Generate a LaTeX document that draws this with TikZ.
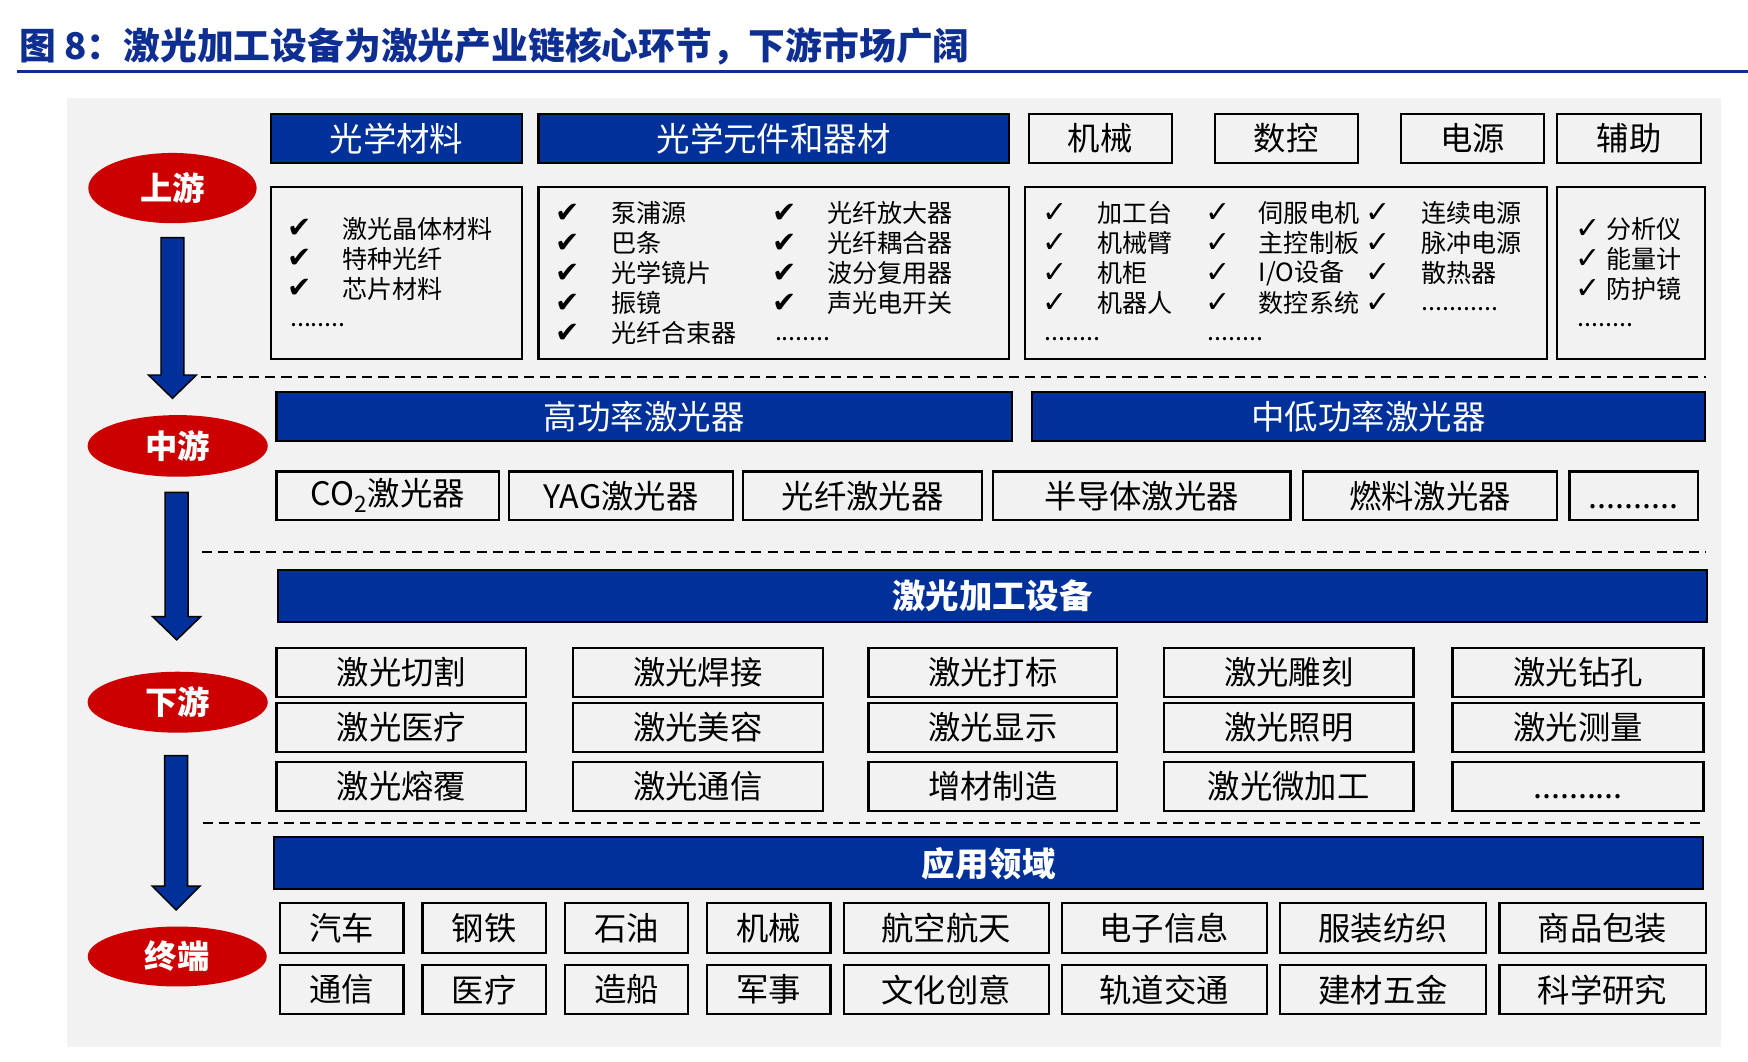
\documentclass[tikz,border=0pt]{standalone}
\usepackage{fontspec}
\setmainfont{Noto Sans CJK SC}
\newfontfamily\symfont{DejaVu Sans}
\usetikzlibrary{shapes.geometric,calc}
\definecolor{tblue}{RGB}{14,46,145}
\definecolor{fblue}{RGB}{0,48,153}
\definecolor{fred}{RGB}{204,0,0}
\definecolor{bgg}{RGB}{242,242,242}
\newcommand\bx[7]{\node[#6,minimum width={(#4-#2)*1pt},minimum height={(#5-#3)*1pt}] (#1) at ({(#2+#4)/2},{(#3+#5)/2}) {#7};}
\newcommand\blockarrow[3]{\draw[barrow] ($(#1)+(-10.3,0)$) -- ($(#1)+(10.3,0)$) -- ($(#2)+(10.3,0)$) -- ($(#2)+(21.5,0)$) -- (#3) -- ($(#2)+(-21.5,0)$) -- ($(#2)+(-10.3,0)$) -- cycle;}
\newcommand\tendots{\vphantom{激}..........}
\tikzset{
 hdr/.style={draw=black,line width=2pt,fill=fblue,text=white,font=\fontsize{30}{34}\selectfont,inner sep=0pt},
 hdrb/.style={draw=black,line width=2pt,fill=fblue,text=white,font=\bfseries\fontsize{30}{34}\selectfont,inner sep=0pt},
 wbox/.style={draw=black,line width=2pt,fill=bgg,font=\fontsize{29}{34}\selectfont,inner sep=0pt},
 cbox/.style={draw=black,line width=2pt,inner sep=0pt},
 chk/.style={anchor=west,inner sep=0pt,font=\symfont\fontsize{26}{30}\selectfont},
 chks/.style={anchor=west,inner sep=0pt,font=\symfont\fontsize{27}{30}\selectfont},
 itm/.style={anchor=west,inner sep=0pt,font=\fontsize{22.5}{27}\selectfont},
 stage/.style={ellipse,fill=fred,text=white,inner sep=0pt,font=\bfseries\fontsize{29}{34}\selectfont},
 sep/.style={draw=black,line width=2pt,dash pattern=on 9pt off 5.5pt},
 barrow/.style={fill=fblue,draw=black,line width=1.3pt,line join=miter},
}
\begin{document}
\begin{tikzpicture}[x=1pt,y=-1pt]
\useasboundingbox (0,0) rectangle (1568,952.6);
% title
\node[anchor=west,inner sep=0pt,text=tblue,font=\bfseries\fontsize{33}{38}\selectfont] (title) at (17,42) {图 8：激光加工设备为激光产业链核心环节，下游市场广阔};
\coordinate (tl1) at (15,64); \coordinate (tl2) at (1568,64);
\draw[tblue,line width=3pt] (tl1) -- (tl2);
% background
\fill[bgg] (60,88) rectangle (1544,939);
% ---------- upstream ----------
\bx{h1}{243}{102.3}{468.3}{146}{hdr}{光学材料}
\bx{h2}{483}{102.3}{905}{146}{hdr}{光学元件和器材}
\bx{h3}{922.7}{102.3}{1051}{146}{wbox}{机械}
\bx{h4}{1089.6}{102.3}{1218}{146}{wbox}{数控}
\bx{h5}{1256.6}{102.3}{1385}{146}{wbox}{电源}
\bx{h6}{1396.5}{102.3}{1526}{146}{wbox}{辅助}
\bx{c1}{242.8}{168}{468.3}{322}{cbox}{}
\bx{c2}{483}{168}{905.1}{322}{cbox}{}
\bx{c3}{919.3}{168}{1387.9}{322}{cbox}{}
\bx{c4}{1396.5}{168}{1529.6}{322}{cbox}{}
% box 1
\foreach \t [count=\i] in {激光晶体材料,特种光纤,芯片材料}{
 \node[chk] (k1\i) at (258,{178+27*\i}) {✔};
 \node[itm] (t1\i) at (307,{178+27*\i}) {\t};}
\node[itm] (d1) at (260,292) {........};
% box 2
\foreach \t [count=\i] in {泵浦源,巴条,光学镜片,振镜,光纤合束器}{
 \node[chk] (k2a\i) at (498,{164.5+26.9*\i}) {✔};
 \node[itm] (t2a\i) at (548,{164.5+26.9*\i}) {\t};}
\foreach \t [count=\i] in {光纤放大器,光纤耦合器,波分复用器,声光电开关}{
 \node[chk] (k2b\i) at (693,{164.5+26.9*\i}) {✔};
 \node[itm] (t2b\i) at (742,{164.5+26.9*\i}) {\t};}
\node[itm] (d2) at (695,304) {........};
% box 3
\foreach \t [count=\i] in {加工台,机械臂,机柜,机器人}{
 \node[chks] (k3a\i) at (935,{164.5+26.9*\i}) {✓};
 \node[itm] (t3a\i) at (984,{164.5+26.9*\i}) {\t};}
\foreach \t [count=\i] in {伺服电机,主控制板,{I/O设备},数控系统}{
 \node[chks] (k3b\i) at (1081,{164.5+26.9*\i}) {✓};
 \node[itm] (t3b\i) at (1129,{164.5+26.9*\i}) {\t};
 \node[chks] (k3c\i) at (1225,{164.5+26.9*\i}) {✓};}
\foreach \t [count=\i] in {连续电源,脉冲电源,散热器}{
 \node[itm] (t3c\i) at (1275,{164.5+26.9*\i}) {\t};}
\node[itm] (d3a) at (937,304) {........};
\node[itm] (d3b) at (1083,304) {........};
\node[itm] (d3c) at (1275,277) {...........};
% box 4
\foreach \t [count=\i] in {分析仪,能量计,防护镜}{
 \node[chks] (k4\i) at (1413,{178+27*\i}) {✓};
 \node[itm] (t4\i) at (1441,{178+27*\i}) {\t};}
\node[itm] (d4) at (1415,292) {........};
% separators
\coordinate (s1a) at (180,338); \coordinate (s1b) at (1530,338);
\coordinate (s2a) at (181,495); \coordinate (s2b) at (1530,495);
\coordinate (s3a) at (182,738); \coordinate (s3b) at (1530,738);
\draw[sep] (s1a) -- (s1b);
\draw[sep] (s2a) -- (s2b);
\draw[sep] (s3a) -- (s3b);
% ---------- midstream ----------
\bx{m1}{248}{351.3}{907.8}{395.6}{hdr}{高功率激光器}
\bx{m2}{925.7}{351.3}{1529.3}{395.6}{hdr}{中低功率激光器}
\bx{l1}{248}{423}{447.8}{466.4}{wbox}{CO\textsubscript{2}激光器}
\bx{l2}{456.5}{423}{657.3}{466.4}{wbox}{YAG激光器}
\bx{l3}{666.6}{423}{881}{466.4}{wbox}{光纤激光器}
\bx{l4}{890.7}{423}{1157.6}{466.4}{wbox}{半导体激光器}
\bx{l5}{1168.7}{423}{1396.8}{466.4}{wbox}{燃料激光器}
\bx{l6}{1407.9}{423}{1522.9}{466.4}{wbox}{\tendots}
% ---------- downstream ----------
\bx{eq}{249.5}{511.3}{1531}{557.6}{hdrb}{激光加工设备}
\foreach \ya/\yb/\r in {581.6/625/1,630.9/674.3/2,683.2/727.5/3}{
 \foreach \xa/\xb/\c in {248/472/1,514/738/2,779/1002/3,1044/1268/4,1303/1528/5}{
  \bx{g\r\c}{\xa}{\ya}{\xb}{\yb}{wbox}{}}}
\foreach \t [count=\c] in {激光切割,激光焊接,激光打标,激光雕刻,激光钻孔}{\node[font=\fontsize{29}{34}\selectfont] (gt1\c) at (g1\c) {\t};}
\foreach \t [count=\c] in {激光医疗,激光美容,激光显示,激光照明,激光测量}{\node[font=\fontsize{29}{34}\selectfont] (gt2\c) at (g2\c) {\t};}
\foreach \t [count=\c] in {激光熔覆,激光通信,增材制造,激光微加工,\tendots}{\node[font=\fontsize{29}{34}\selectfont] (gt3\c) at (g3\c) {\t};}
% ---------- terminal ----------
\bx{ap}{246}{751}{1527.7}{797.7}{hdrb}{应用领域}
\foreach \ya/\yb/\r in {810.3/854.6/1,865.6/909.9/2}{
 \foreach \xa/\xb/\c in {251/362/1,379/489.5/2,507/617/3,634/745/4,757/940.7/5,952.4/1136.3/6,1148.4/1333.2/7,1345/1530/8}{
  \bx{p\r\c}{\xa}{\ya}{\xb}{\yb}{wbox}{}}}
\foreach \t [count=\c] in {汽车,钢铁,石油,机械,航空航天,电子信息,服装纺织,商品包装}{\node[font=\fontsize{29}{34}\selectfont] (pt1\c) at (p1\c) {\t};}
\foreach \t [count=\c] in {通信,医疗,造船,军事,文化创意,轨道交通,建材五金,科学研究}{\node[font=\fontsize{29}{34}\selectfont] (pt2\c) at (p2\c) {\t};}
% ---------- stages ----------
\node[stage,minimum width=151pt,minimum height=63pt] (e1) at (154.7,168.7) {上游};
\node[stage,minimum width=161.6pt,minimum height=55.3pt] (e2) at (159.4,400) {中游};
\node[stage,minimum width=161.6pt,minimum height=54.7pt] (e3) at (159.4,629.9) {下游};
\node[stage,minimum width=160.6pt,minimum height=53.8pt] (e4) at (159,858) {终端};
\coordinate (a1s) at (154.7,213.2); \coordinate (a1h) at (154.7,336.4); \coordinate (a1t) at (154.7,357.3);
\coordinate (a2s) at (158.5,441.6); \coordinate (a2h) at (158.5,553.2); \coordinate (a2t) at (158.5,574);
\coordinate (a3s) at (158,677.8); \coordinate (a3h) at (158,794.8); \coordinate (a3t) at (158,816.3);
\blockarrow{a1s}{a1h}{a1t}
\blockarrow{a2s}{a2h}{a2t}
\blockarrow{a3s}{a3h}{a3t}
\end{tikzpicture}
\end{document}
